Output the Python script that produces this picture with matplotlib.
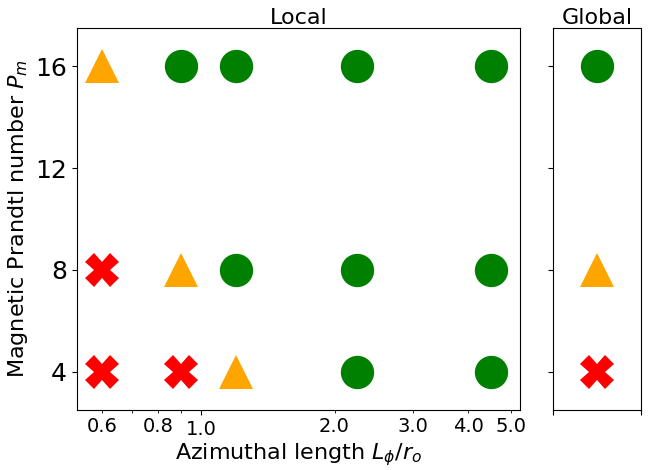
import numpy as np
import matplotlib
matplotlib.use("Agg")
import matplotlib.pyplot as plt

# azimuthal length L_phi/r_o of the local runs, and Pm values
lengths = [0.6, 0.9, 1.2, 2.25, 4.5]
pm_vals = [4, 8, 16]
# outcome per (Pm, L): 'grow' = circle, 'marg' = triangle, 'decay' = cross
local_state = {
    4:  ['decay', 'decay', 'marg', 'grow', 'grow'],
    8:  ['decay', 'marg', 'grow', 'grow', 'grow'],
    16: ['marg', 'grow', 'grow', 'grow', 'grow'],
}
global_state = {4: 'decay', 8: 'marg', 16: 'grow'}

style = {
    'grow':  dict(marker='o', color='green'),
    'marg':  dict(marker='^', color='orange'),
    'decay': dict(marker='X', color='red'),
}
ms = 24

fig = plt.figure(figsize=(6.56, 4.70), dpi=100)
ax = fig.add_axes([0.117, 0.1277, 0.676, 0.8127])
ax2 = fig.add_axes([0.8425, 0.1277, 0.1351, 0.8127], sharey=ax)

for pm in pm_vals:
    for L, st in zip(lengths, local_state[pm]):
        ax.plot(L, pm, linestyle='none', markersize=ms, markeredgewidth=0, **style[st])
    ax2.plot(0.5, pm, linestyle='none', markersize=ms, markeredgewidth=0, **style[global_state[pm]])

ax.set_xscale('log')
ax.set_xlim(0.525, 5.24)
ax.set_ylim(2.5, 17.5)

major = [1.0]
minor = [0.6, 0.7, 0.8, 0.9, 2.0, 3.0, 4.0, 5.0]
minor_lab = ['0.6', '', '0.8', '', '2.0', '3.0', '4.0', '5.0']
ax.set_xticks(major, ['1.0'])
ax.set_xticks(minor, minor_lab, minor=True)
ax.tick_params(axis='x', which='both', labelsize=14)
ax.set_yticks([4, 8, 12, 16])
ax.tick_params(axis='y', labelsize=18)

ax.set_xlabel(r'Azimuthal length $L_\phi/r_o$', fontsize=16, labelpad=2)
ax.set_ylabel(r'Magnetic Prandtl number $P_m$', fontsize=16)
ax.set_title('Local', fontsize=16, pad=3)

ax2.set_xlim(0, 1)
ax2.set_xticks([0, 1], ['', ''])
ax2.tick_params(axis='y', labelleft=False)
ax2.set_title('Global', fontsize=16, pad=3)

fig.savefig('out.png', dpi=100)
